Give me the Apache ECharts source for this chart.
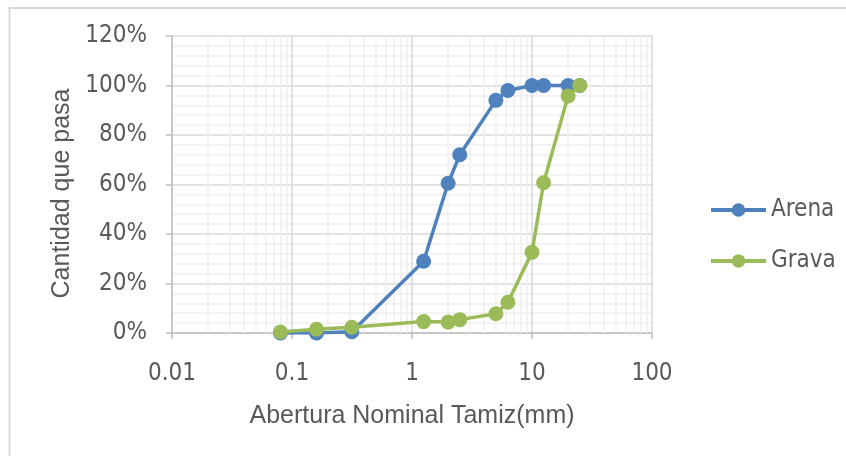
<!DOCTYPE html>
<html>
<head>
<meta charset="utf-8">
<script src="https://cdn.jsdelivr.net/npm/echarts@6/dist/echarts.min.js"></script>
<style>
html,body{margin:0;padding:0;background:#fff;}
#c{width:846px;height:456px;}
</style>
</head>
<body>
<div id="c"></div>
<script>
// Sieve opening (mm)
const sizes = [0.08, 0.16, 0.315, 1.25, 2, 2.5, 5, 6.3, 10, 12.5, 20, 25];
// Percent passing
const arena = [0, 0, 0.5, 29, 60.5, 72, 94, 98, 100, 100, 100, 100];
const grava = [0.4, 1.5, 2.3, 4.6, 4.4, 5.4, 7.8, 12.4, 32.6, 60.7, 95.8, 100];
// X tick labels (decades)
const xTicks = ['0.01', '0.1', '1', '10', '100'];
// Minor x grid values (log decades 2..9)
const xMinor = [];
[0.01, 0.1, 1, 10].forEach(d => { for (let k = 2; k <= 9; k++) xMinor.push(+(d * k).toPrecision(3)); });

const textColor = '#595959';
const narrow = "'DejaVu Sans Condensed', 'Liberation Sans Narrow', 'Liberation Sans', Arial, sans-serif";
const regular = "'Liberation Sans', Arial, sans-serif";

const chart = echarts.init(document.getElementById('c'), null, {renderer: 'canvas'});
chart.setOption({
  animation: false,
  backgroundColor: '#fff',
  graphic: [
    {type: 'line', shape: {x1: 9.5, y1: 8, x2: 846, y2: 8}, style: {stroke: '#d9d9d9', lineWidth: 2}, silent: true},
    {type: 'line', shape: {x1: 9.5, y1: 7, x2: 9.5, y2: 456}, style: {stroke: '#d9d9d9', lineWidth: 2}, silent: true}
  ],
  grid: {left: 172, right: 194, top: 36, bottom: 123, containLabel: false},
  legend: {
    orient: 'vertical',
    left: 709,
    top: 198,
    padding: 0,
    itemWidth: 55,
    itemHeight: 17,
    itemGap: 27,
    lineStyle: {width: 4},
    textStyle: {color: textColor, fontSize: 24, fontFamily: narrow},
    data: ['Arena', 'Grava']
  },
  xAxis: {
    type: 'log',
    logBase: 10,
    min: 0.01,
    max: 100,
    name: 'Abertura Nominal Tamiz(mm)',
    nameLocation: 'middle',
    nameGap: 71,
    nameTextStyle: {color: textColor, fontSize: 25, fontFamily: regular},
    axisLine: {show: true, onZero: false, lineStyle: {color: '#bfbfbf', width: 1.5}},
    axisTick: {show: true, inside: false, length: 6, lineStyle: {color: '#bfbfbf', width: 1.5}},
    axisLabel: {
      color: textColor, fontSize: 24, fontFamily: narrow, margin: 29,
      formatter: v => {
        const i = Math.round(Math.log10(v)) + 2;
        return xTicks[i] !== undefined ? xTicks[i] : '';
      }
    },
    splitLine: {show: true, lineStyle: {color: '#d9d9d9', width: 1.5}}
  },
  yAxis: {
    type: 'value',
    min: 0,
    max: 120,
    interval: 20,
    name: 'Cantidad que pasa',
    nameLocation: 'middle',
    nameRotate: 90,
    nameGap: 95,
    nameTextStyle: {color: textColor, fontSize: 25, fontFamily: regular, padding: [0, 18, 0, 0]},
    axisLine: {show: true, lineStyle: {color: '#bfbfbf', width: 1.5}},
    axisTick: {show: true, inside: false, length: 6, lineStyle: {color: '#bfbfbf', width: 1.5}},
    axisLabel: {color: textColor, fontSize: 24, fontFamily: narrow, margin: 25, formatter: '{value}%'},
    splitLine: {show: true, lineStyle: {color: '#d9d9d9', width: 1.5}},
    minorTick: {show: false, splitNumber: 5},
    minorSplitLine: {show: true, lineStyle: {color: '#efefef', width: 1.5}}
  },
  series: [
    {
      name: 'minorgrid',
      type: 'line',
      data: [],
      silent: true,
      z: 1,
      markLine: {
        z: 1,
        silent: true,
        symbol: ['none', 'none'],
        label: {show: false},
        lineStyle: {color: '#efefef', width: 1.5, type: 'solid'},
        animation: false,
        data: xMinor.map(v => ({xAxis: v}))
      }
    },
    {
      name: 'Arena',
      type: 'line',
      z: 3,
      data: sizes.map((s, i) => [s, arena[i]]),
      symbol: 'circle',
      symbolSize: 15,
      lineStyle: {color: '#4f81bd', width: 3.5},
      itemStyle: {color: '#4f81bd'}
    },
    {
      name: 'Grava',
      type: 'line',
      z: 4,
      data: sizes.map((s, i) => [s, grava[i]]),
      symbol: 'circle',
      symbolSize: 15,
      lineStyle: {color: '#9bbb59', width: 3.5},
      itemStyle: {color: '#9bbb59'}
    }
  ]
});
</script>
</body>
</html>
